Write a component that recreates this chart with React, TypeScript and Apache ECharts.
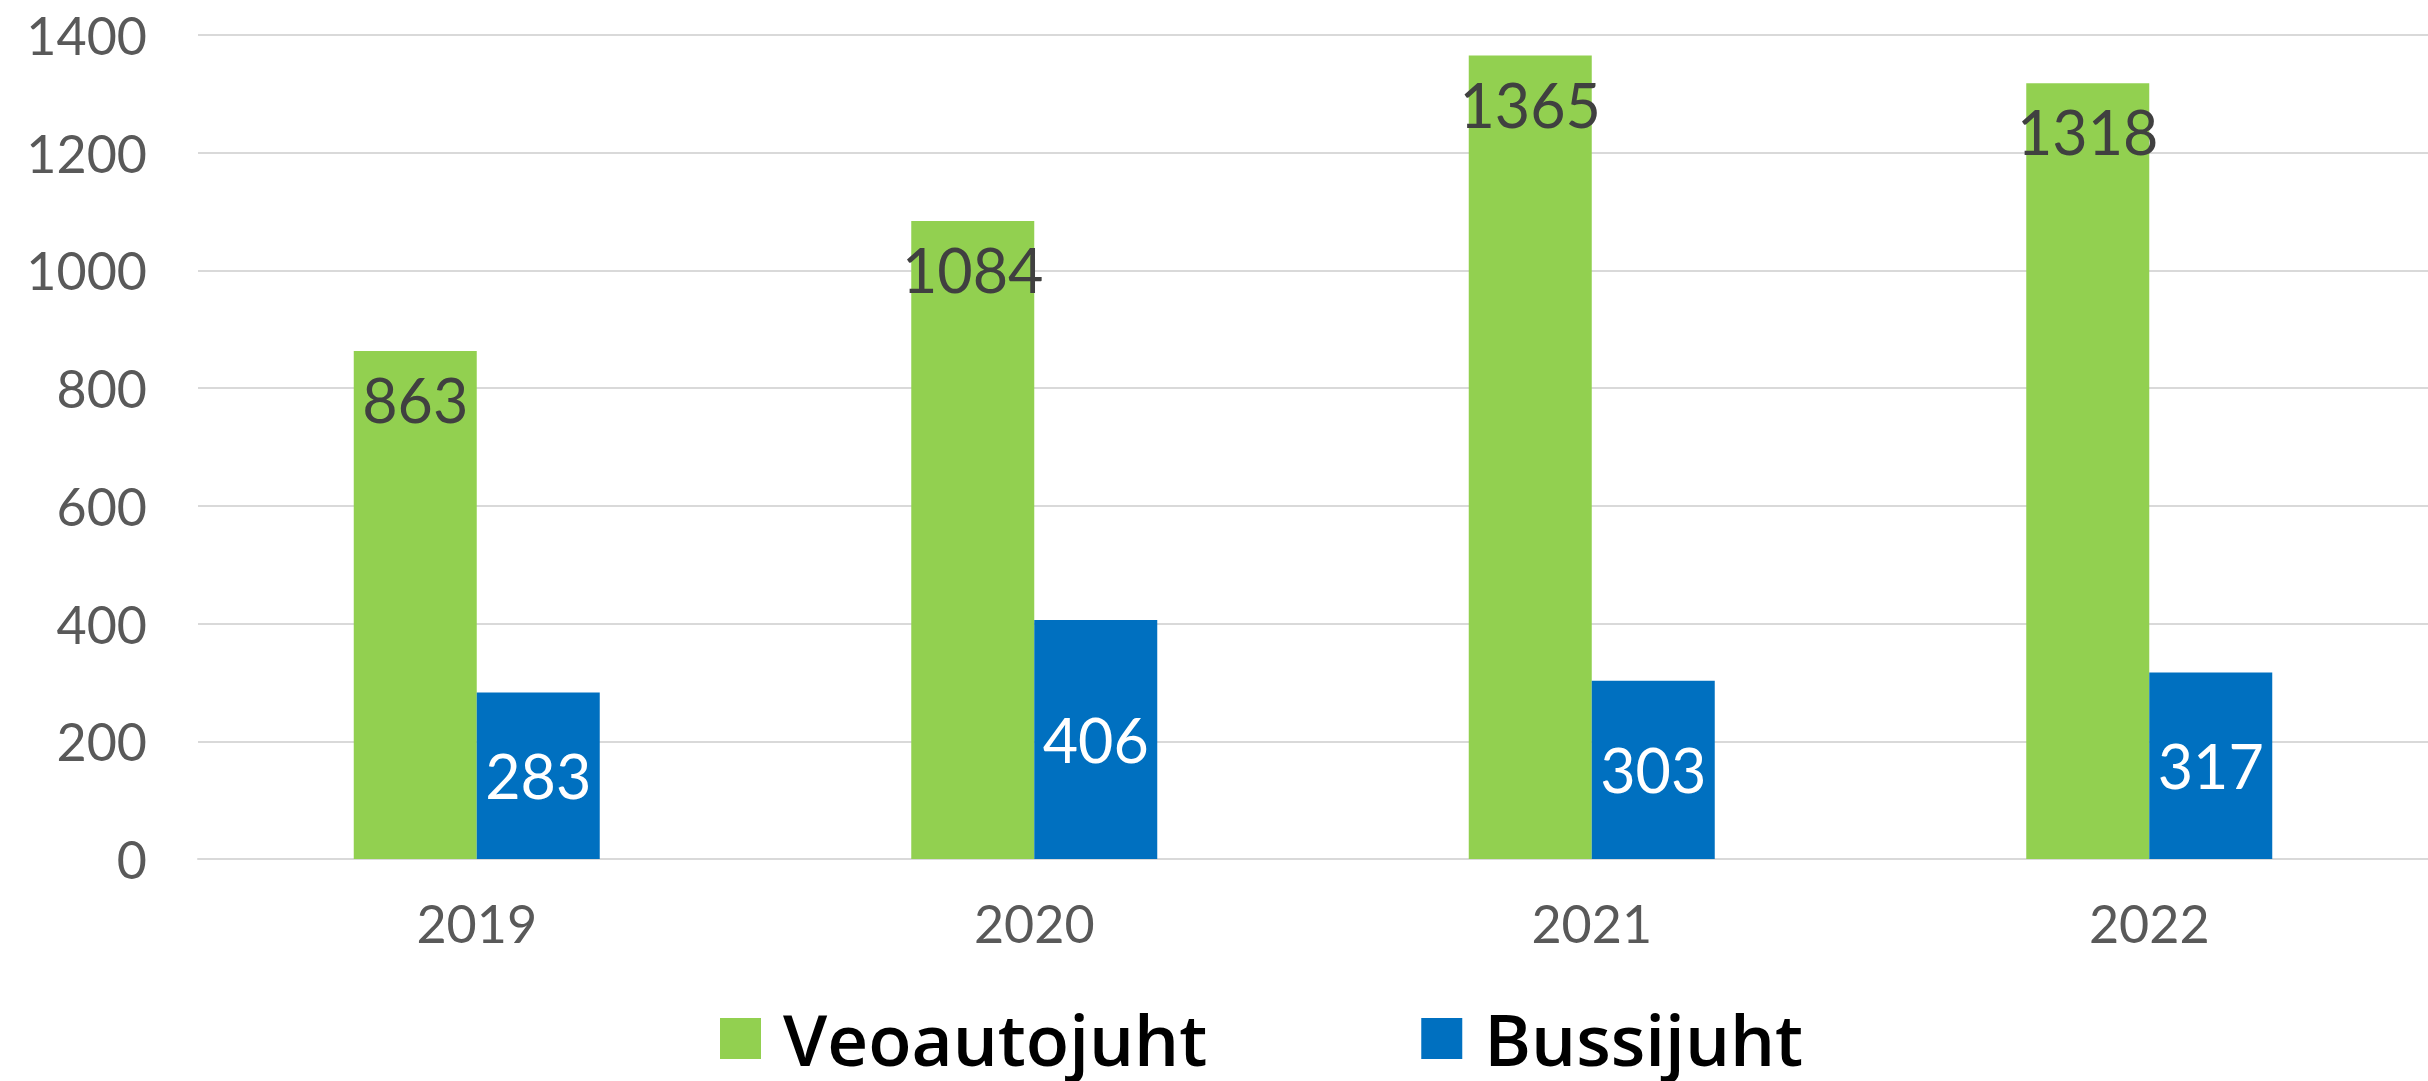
import React, { useEffect, useRef } from "react";
import * as echarts from "echarts";

const categories = ["2019", "2020", "2021", "2022"];
const veoautojuht = [863, 1084, 1365, 1318];
const bussijuht = [283, 406, 303, 317];
const seriesNames = ["Veoautojuht", "Bussijuht"];
const yTicks = { min: 0, max: 1400, interval: 200 };

const GREEN = "#92D050";
const BLUE = "#0070C0";
const FONT = "Lato";

export default function App() {
  const ref = useRef<HTMLDivElement>(null);
  useEffect(() => {
    if (!ref.current) return;
    const chart = echarts.init(ref.current, null, { renderer: "svg" });
    chart.setOption({
      animation: false,
      backgroundColor: "#ffffff",
      grid: { left: 198, right: 0, top: 35, bottom: 222, containLabel: false },
      legend: {
        data: seriesNames,
        left: 715,
        top: 998,
        itemWidth: 41,
        itemHeight: 41,
        itemGap: 214,
        icon: "rect",
        textStyle: {
          fontFamily: "Open Sans",
          fontWeight: 600,
          fontSize: 71,
          color: "#000000",
          padding: [0, 0, 0, 17],
        },
      },
      xAxis: {
        type: "category",
        data: categories,
        axisLine: { show: true, lineStyle: { color: "#d9d9d9", width: 2 } },
        axisTick: { show: false },
        axisLabel: {
          fontFamily: FONT,
          fontSize: 52,
          color: "#595959",
          margin: 38,
        },
      },
      yAxis: {
        type: "value",
        min: yTicks.min,
        max: yTicks.max,
        interval: yTicks.interval,
        axisLine: { show: false },
        axisTick: { show: false },
        splitLine: { lineStyle: { color: "#d9d9d9", width: 2 } },
        axisLabel: {
          fontFamily: FONT,
          fontSize: 52,
          color: "#595959",
          margin: 51,
          formatter: (v: number) => String(v),
        },
      },
      series: [
        {
          name: seriesNames[0],
          type: "bar",
          data: veoautojuht,
          barWidth: 123,
          barGap: "0%",
          itemStyle: { color: GREEN },
          label: {
            show: true,
            position: "insideTop",
            distance: 18,
            fontFamily: FONT,
            fontSize: 61,
            lineHeight: 61,
            color: "#404040",
          },
        },
        {
          name: seriesNames[1],
          type: "bar",
          data: bussijuht,
          barWidth: 123,
          barGap: "0%",
          itemStyle: { color: BLUE },
          label: {
            show: true,
            position: "inside",
            fontFamily: FONT,
            fontSize: 61,
            lineHeight: 61,
            color: "#ffffff",
          },
        },
      ],
    });
    return () => chart.dispose();
  }, []);
  return (
    <div
      ref={ref}
      style={{ position: "fixed", left: 0, top: 0, width: 2428, height: 1081 }}
    />
  );
}
